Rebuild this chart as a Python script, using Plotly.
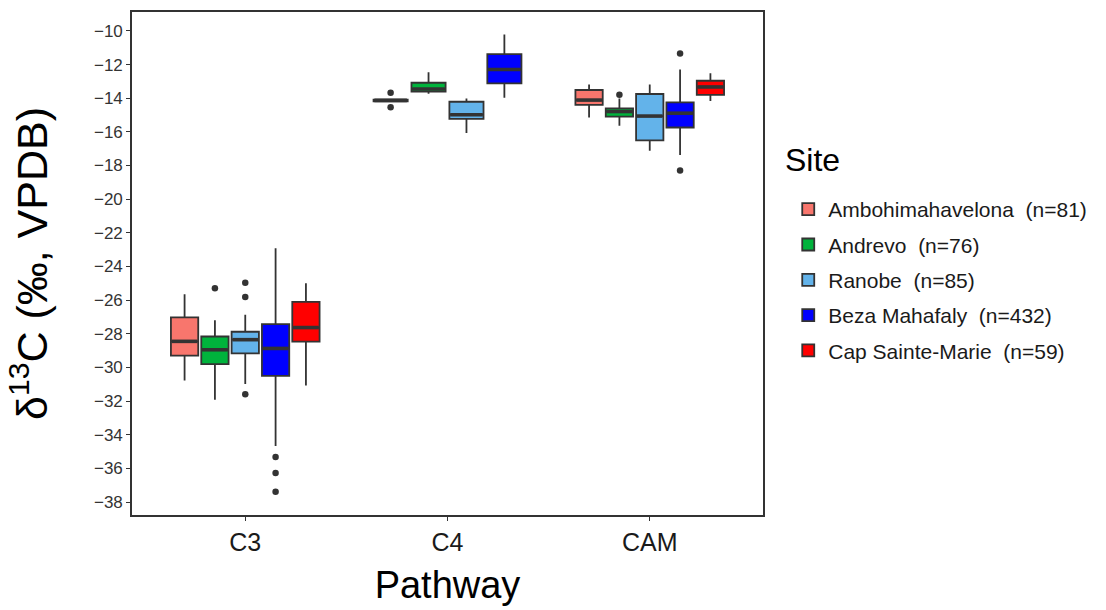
import plotly.graph_objects as go

pathways = ["C3", "C4", "CAM"]
sites = ["Ambohimahavelona", "Andrevo", "Ranobe", "Beza Mahafaly", "Cap Sainte-Marie"]
site_labels = ["Ambohimahavelona  (n=81)", "Andrevo  (n=76)", "Ranobe  (n=85)",
               "Beza Mahafaly  (n=432)", "Cap Sainte-Marie  (n=59)"]
colors = ["#F8766D", "#00B33C", "#63B3EA", "#0000FF", "#FF0000"]
legend_title = "Site"

# statistics per site (rows) and pathway (columns: C3, C4, CAM); None = no data
lower = [[-30.78, -14.20, -15.15],
         [-31.92, -13.74, -15.64],
         [-30.98, -16.07, -17.12],
         [-34.67, -13.97, -17.37],
         [-31.08, None, -14.16]]
q1 = [[-29.30, -14.18, -14.40],
      [-29.80, -13.61, -15.09],
      [-29.16, -15.23, -16.51],
      [-30.50, -13.12, -15.74],
      [-28.47, None, -13.80]]
median = [[-28.45, -14.13, -14.11],
          [-28.95, -13.45, -14.79],
          [-28.35, -14.98, -15.06],
          [-28.87, -12.29, -14.89],
          [-27.63, None, -13.33]]
q3 = [[-27.03, -14.08, -13.51],
      [-28.16, -13.08, -14.60],
      [-27.88, -14.21, -13.75],
      [-27.42, -11.38, -14.25],
      [-26.10, None, -12.96]]
upper = [[-25.65, -14.06, -13.18],
         [-27.19, -12.46, -14.01],
         [-26.87, -14.01, -13.18],
         [-22.92, -10.21, -12.29],
         [-25.00, None, -12.52]]

outlier_site = [0, 0, 1, 2, 2, 2, 3, 3, 3, 1, 3, 3]
outlier_path = [1, 1, 0, 0, 0, 0, 0, 0, 0, 2, 2, 2]
outlier_value = [-13.67, -14.53, -25.30, -24.96, -25.81, -31.59, -35.32, -36.27, -37.39,
                 -13.80, -11.34, -18.30]

y_ticks = list(range(-10, -39, -2))
y_ticktext = ["\u2212" + str(abs(v)) for v in y_ticks]

DODGE = 0.75
PAD = 0.9


def positions(p):
    present = [s for s in range(len(sites)) if median[s][p] is not None]
    n = len(present)
    slot = DODGE / n
    return {s: p + (j - (n - 1) / 2) * slot for j, s in enumerate(present)}, slot * PAD


fig = go.Figure()
line_col = "#333333"
for s in range(len(sites)):
    first = True
    mx, my = [], []
    for p in range(len(pathways)):
        if median[s][p] is None:
            continue
        pos, w = positions(p)
        fig.add_trace(go.Box(
            x=[pos[s]], q1=[q1[s][p]], median=[median[s][p]], q3=[q3[s][p]],
            lowerfence=[lower[s][p]], upperfence=[upper[s][p]],
            width=w, whiskerwidth=0, boxpoints=False,
            fillcolor=colors[s], line=dict(color=line_col, width=1.8),
            name=site_labels[s], legendgroup=sites[s], showlegend=first,
            hoverinfo="y"))
        first = False
        mx += [pos[s] - w / 2 + 0.004, pos[s] + w / 2 - 0.004, None]
        my += [median[s][p], median[s][p], None]
    fig.add_trace(go.Scatter(x=mx, y=my, mode="lines",
                             line=dict(color=line_col, width=3.6),
                             legendgroup=sites[s], showlegend=False, hoverinfo="skip"))
    ox, oy = [], []
    for k in range(len(outlier_value)):
        if outlier_site[k] == s:
            pos, w = positions(outlier_path[k])
            ox.append(pos[s])
            oy.append(outlier_value[k])
    if ox:
        fig.add_trace(go.Scatter(x=ox, y=oy, mode="markers",
                                 marker=dict(color=line_col, size=6.5),
                                 legendgroup=sites[s], showlegend=False))

fig.add_annotation(text=legend_title, xref="paper", yref="paper",
                   x=1.032, y=0.705, xanchor="left", yanchor="middle",
                   showarrow=False, font=dict(size=32, color="black"))

fig.update_layout(
    width=1106, height=610,
    paper_bgcolor="white", plot_bgcolor="white",
    margin=dict(l=132, r=343, t=10, b=95),
    font=dict(family="Liberation Sans, Arial, sans-serif", color="black"),
    showlegend=True,
    legend=dict(x=1.04, y=0.648, xanchor="left", yanchor="top",
                font=dict(size=21, color="#1a1a1a"), tracegroupgap=5),
    xaxis=dict(range=[-0.56, 2.56], tickvals=[0, 1, 2], ticktext=pathways,
               showline=True, mirror=True, linecolor="#333333", linewidth=1.6,
               ticks="outside", ticklen=4, tickcolor="#333333",
               showgrid=False, zeroline=False,
               tickfont=dict(size=25, color="#1a1a1a"),
               title=dict(text="Pathway", font=dict(size=38), standoff=17)),
    yaxis=dict(range=[-38.77, -8.875], tickvals=y_ticks, ticktext=y_ticktext,
               showline=True, mirror=True, linecolor="#333333", linewidth=1.6,
               ticks="outside", ticklen=4, tickcolor="#333333",
               showgrid=False, zeroline=False,
               tickfont=dict(size=17, color="#333333"),
               title=dict(text="\u03b4<sup>13</sup>C (\u2030, VPDB)", font=dict(size=43), standoff=33)),
)

fig.write_html("out.html")
